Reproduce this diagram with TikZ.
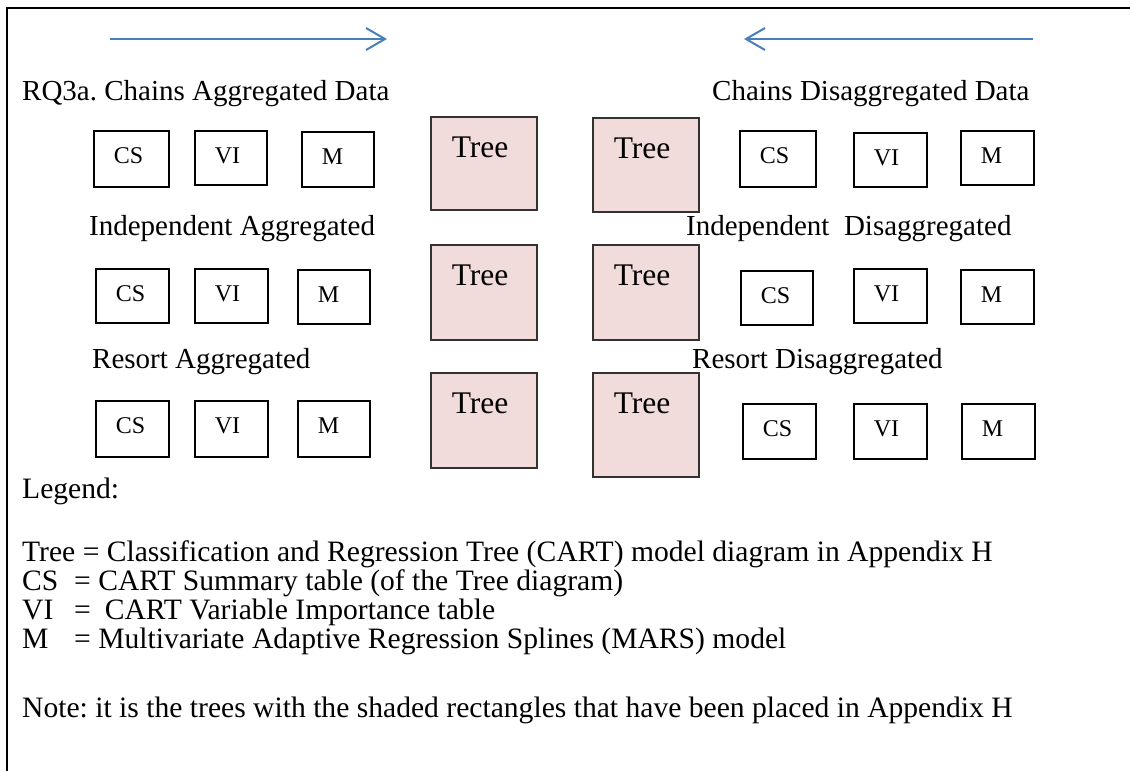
\documentclass[tikz,border=0pt]{standalone}
\usepackage{fontspec}
\setmainfont{Liberation Serif}
\usetikzlibrary{arrows.meta}
\frenchspacing

\definecolor{flowblue}{RGB}{74,126,187}
\definecolor{treefill}{RGB}{242,220,219}
\definecolor{treeline}{RGB}{50,50,50}

% small result box: name, left, top, width, height, label
\newcommand\cellnode[6]{%
  \pgfmathsetmacro\cellw{#4-40}\pgfmathsetmacro\celld{#5-33}%
  \node[cellbox, text width=\cellw pt, text depth=\celld pt] (#1) at (#2,#3) {#6};}
% shaded tree box: name, left, top, width, height
\newcommand\treenode[5]{%
  \pgfmathsetmacro\treew{#4-42}\pgfmathsetmacro\treed{#5-41}%
  \node[treebox, text width=\treew pt, text depth=\treed pt] (#1) at (#2,#3) {Tree};}

\begin{document}
\begin{tikzpicture}[x=1pt, y=-1pt,
  head/.style={anchor=base west, inner sep=0pt, font=\fontsize{29}{34}\selectfont},
  legendline/.style={head, font=\fontsize{29.6}{34}\selectfont},
  cellbox/.style={draw=black, line width=1.5pt, anchor=north west, align=left,
    inner xsep=20pt, inner ysep=0pt, text height=33pt,
    font=\fontsize{24}{28}\selectfont},
  treebox/.style={draw=treeline, fill=treefill, line width=1.5pt, anchor=north west,
    align=left, inner xsep=21pt, inner ysep=0pt, text height=41pt,
    font=\fontsize{31.5}{36}\selectfont},
  flow/.style={draw=flowblue, line width=2pt, -{Straight Barb[length=19pt, width=22pt]}}
]
\useasboundingbox (0,0) rectangle (1130,771);

% frame: top and left edges
\draw[line width=2.8pt] (1130,8) -- (7,8) -- (7,771);

% direction arrows
\coordinate (la) at (110,39);
\coordinate (lb) at (387,39);
\coordinate (ra) at (1033,39);
\coordinate (rb) at (744,39);
\draw[flow] (la) -- (lb);
\draw[flow] (ra) -- (rb);

% row headings
\node[head] (hl1) at (22,100) {RQ3a. Chains Aggregated Data};
\node[head] (hr1) at (712,100) {Chains Disaggregated Data};
\node[head] (hl2) at (89,235) {Independent Aggregated};
\node[head] (hr2) at (686,235) {Independent\hspace{14.5pt}Disaggregated};
\node[head] (hl3) at (92,368) {Resort Aggregated};
\node[head] (hr3) at (692,368) {Resort Disaggregated};

% aggregated side
\cellnode{cs1}{93}{130}{75}{56}{CS}
\cellnode{vi1}{194}{130}{72}{54}{VI}
\cellnode{m1}{301}{131}{72}{55}{M}
\cellnode{cs2}{95}{268}{73}{54}{CS}
\cellnode{vi2}{194}{268}{73}{54}{VI}
\cellnode{m2}{297}{269}{72}{54}{M}
\cellnode{cs3}{95}{400}{73}{56}{CS}
\cellnode{vi3}{194}{400}{73}{56}{VI}
\cellnode{m3}{297}{400}{72}{56}{M}

% trees
\treenode{tl1}{430}{116}{106}{93}
\treenode{tr1}{592}{117}{106}{94}
\treenode{tl2}{430}{244}{106}{95}
\treenode{tr2}{592}{244}{106}{95}
\treenode{tl3}{430}{372}{106}{95}
\treenode{tr3}{592}{372}{106}{104}

% disaggregated side
\cellnode{cs4}{739}{130}{76}{56}{CS}
\cellnode{vi4}{853}{132}{73}{54}{VI}
\cellnode{m4}{960}{130}{73}{54}{M}
\cellnode{cs5}{740}{270}{72}{54}{CS}
\cellnode{vi5}{853}{268}{73}{54}{VI}
\cellnode{m5}{960}{269}{73}{54}{M}
\cellnode{cs6}{742}{403}{73}{55}{CS}
\cellnode{vi6}{853}{403}{73}{55}{VI}
\cellnode{m6}{961}{403}{73}{55}{M}

% legend
\node[legendline] (leg) at (22,498) {Legend:};
\node[legendline] (lt) at (22,561) {Tree = Classification and Regression Tree (CART) model diagram in Appendix H};
\node[legendline] (lcs) at (22,590) {\makebox[52pt][l]{CS}= CART Summary table (of the Tree diagram)};
\node[legendline] (lvi) at (22,619) {\makebox[52pt][l]{VI}=\hspace{14pt}CART Variable Importance table};
\node[legendline] (lm) at (22,648) {\makebox[52pt][l]{M}= Multivariate Adaptive Regression Splines (MARS) model};
\node[legendline] (note) at (22,717) {Note: it is the trees with the shaded rectangles that have been placed in Appendix H};
\end{tikzpicture}
\end{document}
